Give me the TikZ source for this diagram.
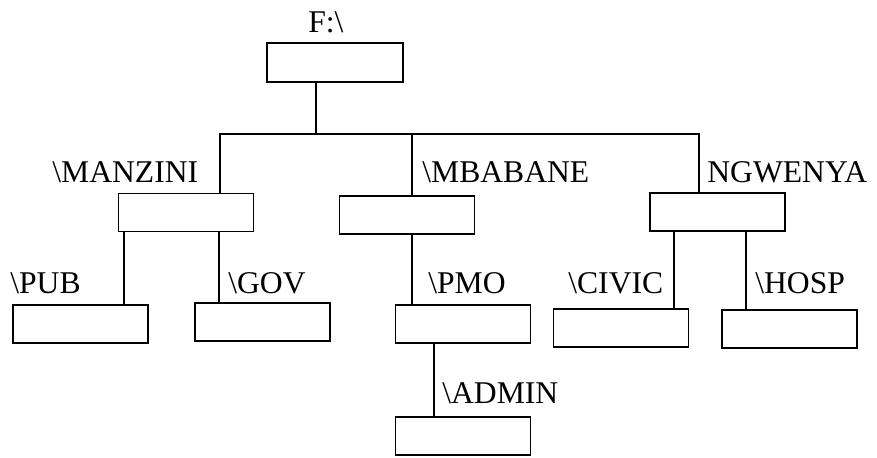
\documentclass[tikz,border=0pt]{standalone}
\usepackage{fontspec}
\setmainfont{Liberation Serif}
\usepackage{tikz}

\tikzset{
  dirbox/.style={draw,line width=0.8pt,minimum width=2.7cm,minimum height=0.76cm,inner sep=0pt},
  dirname/.style={anchor=west,inner sep=0pt,font=\fontsize{18}{20}\selectfont},
  link/.style={line width=0.8pt}
}

\begin{document}
\begin{tikzpicture}
\useasboundingbox (0,0) rectangle (17.54,9.14);
% boxes
\node[dirbox,minimum width=2.72cm,minimum height=0.78cm] (root) at (6.70,7.89) {};
\node[dirbox] (manzini) at (3.72,4.89) {};
\node[dirbox] (mbabane) at (8.14,4.84) {};
\node[dirbox] (ngwenya) at (14.35,4.90) {};
\node[dirbox] (pub) at (1.61,2.66) {};
\node[dirbox] (gov) at (5.25,2.70) {};
\node[dirbox] (pmo) at (9.26,2.66) {};
\node[dirbox] (admin) at (9.26,0.42) {};
\node[dirbox] (civic) at (12.42,2.58) {};
\node[dirbox] (hosp) at (15.79,2.56) {};
% labels
\node[dirname] (lroot) at (6.16,8.70) {F:\textbackslash};
\node[dirname] (lmanzini) at (1.04,5.70) {\textbackslash MANZINI};
\node[dirname] (lmbabane) at (8.44,5.70) {\textbackslash MBABANE};
\node[dirname] (lngwenya) at (14.14,5.70) {NGWENYA};
\node[dirname] (lpub) at (0.20,3.48) {\textbackslash PUB};
\node[dirname] (lgov) at (4.56,3.48) {\textbackslash GOV};
\node[dirname] (lpmo) at (8.56,3.48) {\textbackslash PMO};
\node[dirname] (lcivic) at (11.36,3.48) {\textbackslash CIVIC};
\node[dirname] (lhosp) at (15.10,3.48) {\textbackslash HOSP};
\node[dirname] (ladmin) at (8.84,1.28) {\textbackslash ADMIN};
% bus
\coordinate (br) at (6.32,6.46);
\coordinate (bm) at (4.40,6.46);
\coordinate (bb) at (8.24,6.46);
\coordinate (bn) at (13.98,6.46);
\draw[link] (root.south -| br)--(br);
\draw[link] (manzini.north -| bm)--(bm)--(bn)--(ngwenya.north -| bn);
\draw[link] (mbabane.north -| bb)--(bb);
% drops
\coordinate (dpub) at (2.48,0);
\coordinate (dgov) at (4.38,0);
\coordinate (dpmo) at (8.24,0);
\coordinate (dadmin) at (8.68,0);
\coordinate (dcivic) at (13.48,0);
\coordinate (dhosp) at (14.92,0);
\draw[link] (manzini.south -| dpub)--(pub.north -| dpub);
\draw[link] (manzini.south -| dgov)--(gov.north -| dgov);
\draw[link] (mbabane.south -| dpmo)--(pmo.north -| dpmo);
\draw[link] (pmo.south -| dadmin)--(admin.north -| dadmin);
\draw[link] (ngwenya.south -| dcivic)--(civic.north -| dcivic);
\draw[link] (ngwenya.south -| dhosp)--(hosp.north -| dhosp);
\end{tikzpicture}
\end{document}
